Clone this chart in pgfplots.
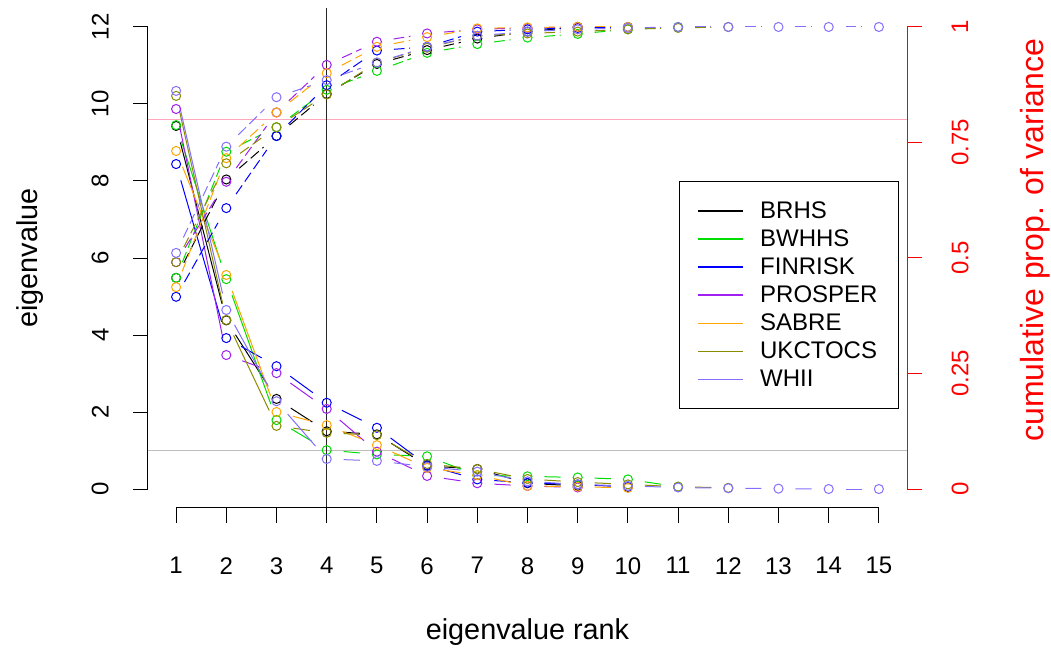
\documentclass[border=0pt]{standalone}
\usepackage{pgfplots}
\pgfplotsset{compat=1.18}
\usepackage{pgfplotstable}
\usepackage{fontspec}
\setmainfont{Liberation Sans}
\definecolor{cBWHHS}{HTML}{00DD00}
\definecolor{cFIN}{HTML}{0000FF}
\definecolor{cPROSPER}{HTML}{A020F0}
\definecolor{cSABRE}{HTML}{FFA500}
\definecolor{cUKC}{HTML}{8B8B00}
\definecolor{cWHII}{HTML}{8470FF}
\definecolor{cPink}{HTML}{FFA8BC}
\definecolor{cGray}{HTML}{BEBEBE}
\newcommand\lbl{\fontsize{18}{21.6}\selectfont}
\newcommand\ttl{\fontsize{21.6}{26}\selectfont}
\newcommand\rttl{\fontsize{24}{28}\selectfont}

% x = eigenvalue rank, e = eigenvalue, c = cumulative proportion of variance
\pgfplotstableread{
x e c
1 9.43 0.457
2 4.38 0.670
3 2.34 0.764
4 1.50 0.855
5 1.42 0.920
6 0.60 0.950
7 0.52 0.975
8 0.15 0.990
9 0.08 1.000
}\tBRHS
\pgfplotstableread{
x e c
1 9.45 0.457
2 5.45 0.730
3 1.79 0.783
4 1.01 0.864
5 0.90 0.905
6 0.85 0.944
7 0.36 0.963
8 0.33 0.977
9 0.30 0.985
10 0.25 0.995
11 0.06 1.000
}\tBWHHS
\pgfplotstableread{
x e c
1 8.44 0.416
2 3.92 0.608
3 3.19 0.764
4 2.24 0.874
5 1.59 0.949
6 0.62 0.957
7 0.25 0.990
8 0.16 0.995
9 0.12 0.998
10 0.05 1.000
}\tFIN
\pgfplotstableread{
x e c
1 9.87 0.491
2 3.48 0.665
3 3.01 0.815
4 2.08 0.918
5 0.97 0.968
6 0.34 0.986
7 0.15 0.995
8 0.08 0.998
9 0.04 1.000
}\tPROSPER
\pgfplotstableread{
x e c
1 8.78 0.437
2 5.56 0.716
3 2.00 0.815
4 1.66 0.900
5 1.14 0.957
6 0.55 0.978
7 0.36 0.997
8 0.08 0.999
9 0.06 1.000
10 0.03 1.000
}\tSABRE
\pgfplotstableread{
x e c
1 10.21 0.491
2 4.39 0.705
3 1.64 0.783
4 1.46 0.854
5 1.40 0.923
6 0.65 0.955
7 0.52 0.981
8 0.26 0.986
9 0.18 0.990
10 0.12 0.995
11 0.06 0.998
12 0.03 1.000
}\tUKC
\pgfplotstableread{
x e c
1 10.34 0.511
2 4.65 0.741
3 2.28 0.848
4 0.78 0.885
5 0.73 0.923
6 0.58 0.957
7 0.45 0.981
8 0.20 0.990
9 0.12 0.995
10 0.08 0.998
11 0.04 1.000
12 0.02 1.000
13 0.01 1.000
14 0.00 1.000
15 0.00 1.000
}\tWHII

% difference to the next row (for the gapped segments of type "b")
\newcommand\adddiff[2]{%
  \pgfplotstablecreatecol[create col/assign/.code={%
    \pgfmathtruncatemacro\rr{\pgfplotstablerow+1}%
    \ifnum\rr<\pgfplotstablerows\relax
      \pgfmathsetmacro\tmp{\nextrow{#2}-\thisrow{#2}}%
    \else
      \def\tmp{0}%
    \fi
    \pgfkeyslet{/pgfplots/table/create col/next content}\tmp
  }]{d#2}{#1}%
}
\adddiff\tBRHS{e}\adddiff\tBRHS{c}
\adddiff\tBWHHS{e}\adddiff\tBWHHS{c}
\adddiff\tFIN{e}\adddiff\tFIN{c}
\adddiff\tPROSPER{e}\adddiff\tPROSPER{c}
\adddiff\tSABRE{e}\adddiff\tSABRE{c}
\adddiff\tUKC{e}\adddiff\tUKC{c}
\adddiff\tWHII{e}\adddiff\tWHII{c}

% #1 table, #2 column, #3 colour, #4 last index, #5 line style
\newcommand\segs[5]{%
  \addplot[forget plot, draw=none, no markers,
    quiver={u=1, v=\thisrow{d#2},
      every arrow/.style={draw=#3, line width=0.75pt, shorten <=12.75pt, shorten >=12.75pt, #5}},
    skip coords between index={#4}{100}] table[x=x, y=#2] {#1};
  \addplot[forget plot, only marks, mark=o, mark size=3.4pt,
    mark options={draw=#3, line width=0.75pt, solid}] table[x=x, y=#2] {#1};
}

\begin{document}
\begin{tikzpicture}
\useasboundingbox (-111pt,-109.875pt) rectangle (677.25pt,380.625pt);
\begin{axis}[
  scale only axis, width=569.25pt, height=374.25pt,
  xmin=0.44, xmax=15.56, ymin=-0.48, ymax=12.48,
  axis x line*=bottom, axis y line*=left,
  axis line style={draw=none},
  xtick={1,...,15}, ytick={0,2,...,12},
  tick align=outside, major tick length=11.25pt,
  tick style={black, line width=0.75pt},
  ticklabel style={font=\lbl},
  /pgf/number format/assume math mode=true,
  xticklabel style={anchor=north, inner sep=0pt},
  yticklabel style={rotate=90, anchor=south, inner sep=0pt},
  xticklabel shift=26pt, yticklabel shift=18pt,
  clip=false,
  legend style={at={(rel axis cs:0.6996,0.6543)}, anchor=north west,
    draw=black, line width=0.75pt, font=\lbl, inner xsep=13.5pt, inner ysep=13pt,
    row sep=3pt, cells={anchor=west},
    /tikz/every odd column/.append style={column sep=10pt}},
  legend image code/.code={\draw[line width=1pt, #1] (0pt,0pt) -- (34pt,0pt);},
]
\draw[cPink, line width=1pt] (axis cs:0.44,9.6) -- (axis cs:15.56,9.6);
\draw[cGray, line width=0.75pt] (axis cs:0.44,1) -- (axis cs:15.56,1);
\draw[black!85, line width=0.75pt] (axis cs:4,-0.48) -- (axis cs:4,12.48);
\draw[black, line width=0.75pt] (axis cs:1,-0.48) -- (axis cs:15,-0.48);
\draw[black, line width=0.75pt] (axis cs:0.44,0) -- (axis cs:0.44,12);

\segs{\tBRHS}{e}{black}{8}{solid}
\segs{\tBWHHS}{e}{cBWHHS}{10}{solid}
\segs{\tFIN}{e}{cFIN}{9}{solid}
\segs{\tPROSPER}{e}{cPROSPER}{8}{solid}
\segs{\tSABRE}{e}{cSABRE}{9}{solid}
\segs{\tUKC}{e}{cUKC}{11}{solid}
\segs{\tWHII}{e}{cWHII}{14}{solid}

\addlegendimage{draw=black}\addlegendentry{BRHS}
\addlegendimage{draw=cBWHHS}\addlegendentry{BWHHS}
\addlegendimage{draw=cFIN}\addlegendentry{FINRISK}
\addlegendimage{draw=cPROSPER}\addlegendentry{PROSPER}
\addlegendimage{draw=cSABRE}\addlegendentry{SABRE}
\addlegendimage{draw=cUKC}\addlegendentry{UKCTOCS}
\addlegendimage{draw=cWHII}\addlegendentry{WHII}
\end{axis}

\begin{axis}[
  scale only axis, width=569.25pt, height=374.25pt,
  xmin=0.44, xmax=15.56, ymin=-0.04, ymax=1.04,
  axis x line=none, axis y line*=right,
  axis line style={draw=none},
  ytick={0,0.25,0.5,0.75,1}, yticklabels={0,0.25,0.5,0.75,1},
  tick align=outside, major tick length=11.25pt,
  tick style={red, line width=0.75pt},
  yticklabel style={font=\lbl, red, rotate=90, anchor=north, inner sep=0pt},
  yticklabel shift=22pt,
  clip=false,
]
\draw[red, line width=0.75pt] (axis cs:15.56,0) -- (axis cs:15.56,1);
\segs{\tBRHS}{c}{black}{8}{dash pattern=on 8pt off 3.5pt}
\segs{\tBWHHS}{c}{cBWHHS}{10}{dash pattern=on 8pt off 3.5pt}
\segs{\tFIN}{c}{cFIN}{9}{dash pattern=on 8pt off 3.5pt}
\segs{\tPROSPER}{c}{cPROSPER}{8}{dash pattern=on 8pt off 3.5pt}
\segs{\tSABRE}{c}{cSABRE}{9}{dash pattern=on 8pt off 3.5pt}
\segs{\tUKC}{c}{cUKC}{11}{dash pattern=on 8pt off 3.5pt}
\segs{\tWHII}{c}{cWHII}{14}{dash pattern=on 8pt off 3.5pt}
\end{axis}

\node[font=\ttl] at (284.625pt,-93.4pt) {eigenvalue rank};
\node[font=\ttl, rotate=90] at (-88.5pt,187.125pt) {eigenvalue};
\node[font=\rttl, rotate=90, red] at (665.25pt,200.6pt) {cumulative prop. of variance};
\end{tikzpicture}
\end{document}
